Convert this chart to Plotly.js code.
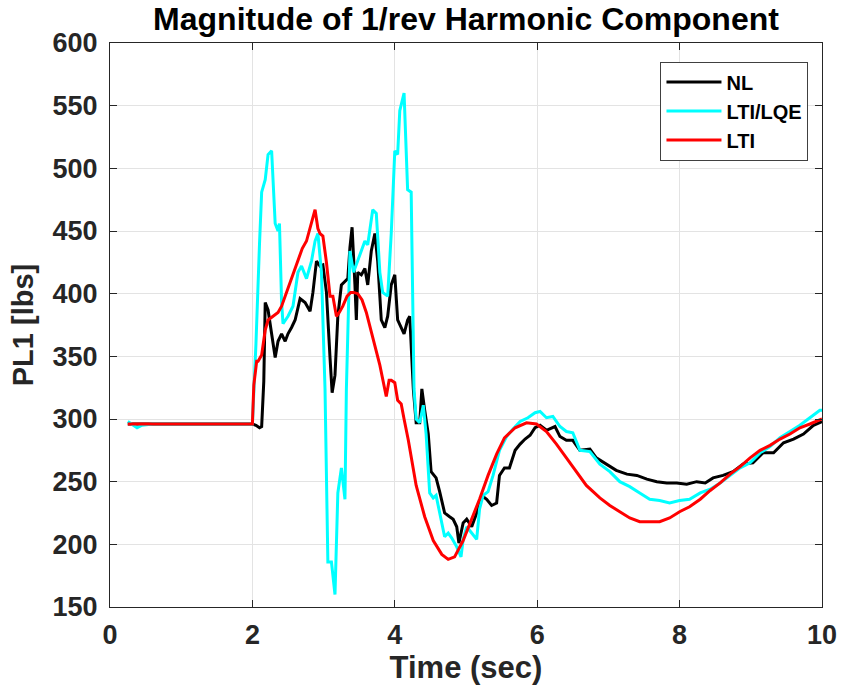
<!DOCTYPE html>
<html>
<head>
<meta charset="utf-8">
<script src="https://cdn.plot.ly/plotly-3.0.1.min.js"></script>
<style>html,body{margin:0;padding:0;background:#fff;}#chart{width:845px;height:687px;}</style>
</head>
<body>
<div id="chart"></div>
<script>
// NL (nonlinear) series
const nlTime = [0.25,1.0,2.0,2.05,2.1,2.13,2.16,2.18,2.22,2.27,
  2.32,2.36,2.41,2.46,2.5,2.55,2.6,2.67,2.74,2.81,
  2.85,2.9,2.95,2.99,3.04,3.09,3.12,3.16,3.2,3.25,
  3.3,3.34,3.37,3.4,3.44,3.46,3.48,3.53,3.58,3.62,
  3.67,3.72,3.76,3.81,3.86,3.9,3.95,4.0,4.04,4.09,
  4.13,4.18,4.21,4.26,4.3,4.35,4.38,4.42,4.47,4.51,
  4.58,4.63,4.7,4.77,4.82,4.87,4.9,4.96,5.01,5.08,
  5.15,5.22,5.29,5.36,5.43,5.47,5.54,5.61,5.69,5.76,
  5.83,5.9,5.97,6.04,6.13,6.25,6.32,6.41,6.5,6.6,
  6.74,6.83,6.97,7.11,7.26,7.4,7.54,7.68,7.82,7.96,
  8.1,8.24,8.36,8.47,8.61,8.75,8.89,9.03,9.17,9.32,
  9.46,9.6,9.74,9.88,10.0];
const nlValue = [296,296,296,295,293,294,330,393,387,368,
  349,362,368,362,368,373,379,396,393,386,
  401,426,422,423,401,349,321,335,382,407,
  410,412,437,453,407,379,417,415,420,407,
  434,448,426,379,373,382,407,415,379,373,
  368,379,382,324,297,297,324,307,288,258,
  253,242,225,222,220,214,201,217,220,214,
  225,239,236,231,233,255,261,261,275,280,
  284,287,293,295,291,294,286,283,283,275,
  276,269,264,259,256,255,252,250,249,249,
  248,250,249,253,255,258,264,265,273,273,
  281,284,288,295,298];

// LTI/LQE series
const lqeTime = [0.25,0.3,0.38,0.45,0.6,2.0,2.05,2.1,2.13,2.18,
  2.22,2.27,2.32,2.36,2.38,2.41,2.43,2.5,2.57,2.64,
  2.69,2.76,2.83,2.88,2.92,2.97,3.02,3.06,3.11,3.16,
  3.2,3.25,3.3,3.32,3.37,3.42,3.46,3.53,3.58,3.62,
  3.69,3.74,3.79,3.83,3.9,3.95,4.0,4.04,4.07,4.13,
  4.18,4.23,4.27,4.3,4.35,4.4,4.44,4.49,4.54,4.58,
  4.63,4.7,4.75,4.8,4.87,4.93,4.96,5.01,5.08,5.15,
  5.19,5.24,5.31,5.38,5.47,5.57,5.66,5.76,5.87,5.97,
  6.04,6.13,6.22,6.32,6.41,6.5,6.6,6.74,6.88,7.02,
  7.16,7.3,7.44,7.58,7.72,7.86,8.0,8.14,8.29,8.43,
  8.57,8.71,8.85,8.99,9.13,9.27,9.41,9.55,9.69,9.83,
  9.97,10.0];
const lqeValue = [298,296,293,295,296,296,360,440,481,491,
  511,514,456,450,456,393,376,382,390,417,
  422,412,426,442,448,417,324,186,186,160,
  241,261,236,324,434,417,423,434,442,439,
  467,464,417,401,398,448,514,511,546,560,
  483,481,324,300,297,311,288,241,237,239,
  225,206,209,205,198,190,204,214,209,204,
  228,239,242,255,275,286,292,298,301,305,
  306,301,302,294,290,289,275,274,264,258,
  250,246,241,236,235,233,235,236,241,244,
  249,255,261,265,273,278,285,290,295,301,
  307,307];

// LTI series
const ltiTime = [0.25,2.0,2.02,2.06,2.08,2.13,2.18,2.22,2.29,2.36,
  2.41,2.5,2.6,2.7,2.76,2.82,2.88,2.92,2.95,2.99,
  3.04,3.09,3.13,3.18,3.22,3.27,3.33,3.38,3.42,3.48,
  3.54,3.6,3.69,3.79,3.88,3.92,3.95,4.0,4.04,4.09,
  4.13,4.19,4.3,4.42,4.54,4.66,4.75,4.84,4.96,5.08,
  5.19,5.31,5.43,5.54,5.69,5.85,5.99,6.13,6.27,6.41,
  6.55,6.69,6.88,7.02,7.16,7.3,7.44,7.58,7.72,7.86,
  8.0,8.14,8.29,8.43,8.57,8.71,8.85,8.99,9.13,9.27,
  9.41,9.55,9.69,9.83,10.0];
const ltiValue = [296,296,327,346,346,351,371,379,382,385,
  390,404,420,436,442,455,467,452,448,446,
  425,398,398,382,385,390,398,401,401,400,
  395,385,365,343,318,331,331,329,315,312,
  300,283,247,222,203,192,188,190,203,220,
  236,255,272,285,293,297,296,290,280,269,
  258,247,237,231,226,221,218,218,218,221,
  226,230,236,243,249,256,262,269,275,279,
  284,288,293,296,300];

const seriesNames = ['NL', 'LTI/LQE', 'LTI'];
const titleText = 'Magnitude of 1/rev Harmonic Component';
const xTitle = 'Time (sec)';
const yTitle = 'PL1 [lbs]';

const FONT = 'Liberation Sans, Arial, Helvetica, sans-serif';

const traces = [
  {x: nlTime, y: nlValue, name: seriesNames[0], mode: 'lines', line: {color: '#000000', width: 3}},
  {x: lqeTime, y: lqeValue, name: seriesNames[1], mode: 'lines', line: {color: '#00FFFF', width: 3}},
  {x: ltiTime, y: ltiValue, name: seriesNames[2], mode: 'lines', line: {color: '#FF0000', width: 3}}
];

const axisCommon = {
  showline: true, mirror: 'ticks', linecolor: '#262626', linewidth: 1,
  ticks: 'inside', ticklen: 7, tickcolor: '#262626',
  showgrid: true, gridcolor: '#e3e3e3', gridwidth: 1, zeroline: false,
  automargin: false,
  tickfont: {family: FONT, size: 27, color: '#262626', weight: 'bold'}
};

const layout = {
  width: 845, height: 687,
  paper_bgcolor: '#ffffff', plot_bgcolor: '#ffffff',
  margin: {l: 110, r: 23, t: 43, b: 80},
  title: {text: titleText, font: {family: FONT, size: 32, color: '#000000', weight: 'bold'},
          xref: 'paper', x: 0.5, xanchor: 'center', yref: 'container', y: 0.972, yanchor: 'middle'},
  xaxis: Object.assign({}, axisCommon, {range: [0, 10], dtick: 2, tick0: 0, ticklabelstandoff: 4,
    title: {text: xTitle, font: {family: FONT, size: 31, color: '#262626', weight: 'bold'}, standoff: 2}}),
  yaxis: Object.assign({}, axisCommon, {range: [150, 600], dtick: 50, tick0: 150, ticklabelstandoff: 6,
    title: {text: yTitle, font: {family: FONT, size: 29, color: '#262626', weight: 'bold'}, standoff: 10}}),
  showlegend: true,
  legend: {x: 0.981, xanchor: 'right', y: 0.967, yanchor: 'top',
    bgcolor: '#ffffff', bordercolor: '#404040', borderwidth: 1, itemwidth: 55,
    font: {family: FONT, size: 20, color: '#000000', weight: 'bold'}}
};

Plotly.newPlot('chart', traces, layout, {displayModeBar: false, staticPlot: true});
</script>
</body>
</html>
